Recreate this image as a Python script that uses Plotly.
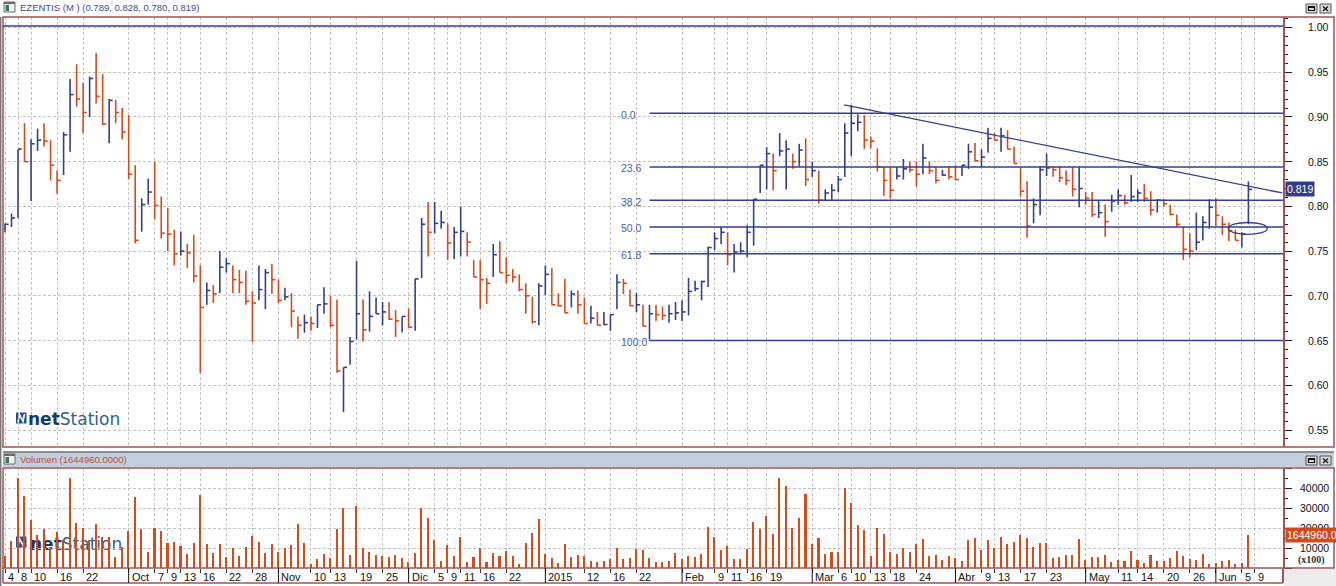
import pandas as pd
import plotly.graph_objects as go

W, H = 1336, 586

# ---------------- data ----------------
first_day = "2014-09-04"
last_axis_day = "2015-06-09"
market_holidays = ["2014-12-25", "2014-12-26", "2015-01-01",
                   "2015-04-03", "2015-04-06", "2015-05-01"]

high = [
    .781, .792, .864, .893, .875, .887, .893, .874, .840, .883,
    .9425, .959, .938, .945, .9715, .948, .920, .919, .910, .902,
    .846, .809, .831, .850, .811, .798, .774, .772, .758, .768,
    .734, .715, .712, .750, .742, .734, .729, .728, .705, .734,
    .730, .736, .718, .709, .703, .677, .679, .677, .690, .7095,
    .700, .696, .620, .654, .739, .696, .705, .698, .693, .693,
    .684, .677, .686, .719, .787, .805, .805, .795, .781, .777,
    .800, .771, .740, .740, .720, .758, .761, .743, .730, .724,
    .714, .699, .714, .734, .731, .703, .719, .706, .706, .698,
    .689, .682, .682, .679, .724, .719, .707, .703, .690, .690,
    .690, .688, .690, .693, .695, .720, .717, .717, .755, .771,
    .777, .771, .758, .760, .779, .808, .846, .866, .859, .882,
    .874, .859, .870, .876, .850, .840, .819, .825, .834, .893,
    .9134, .903, .902, .878, .865, .844, .844, .844, .853, .850,
    .850, .870, .850, .844, .841, .845, .846, .846, .870, .871,
    .864, .888, .882, .888, .885, .867, .844, .828, .809, .845,
    .859, .845, .845, .840, .844, .844, .816, .816, .806, .802,
    .813, .819, .813, .835, .819, .825, .817, .808, .808, .802,
    .791, .777, .770, .793, .789, .808, .809, .789, .782, .774,
    .771, .828]

low = [
    .771, .777, .787, .850, .806, .862, .867, .829, .814, .835,
    .861, .9115, .882, .900, .915, .891, .8705, .893, .875, .8306,
    .7587, .7717, .802, .7855, .764, .750, .734, .745, .731, .715,
    .6137, .690, .692, .703, .726, .703, .703, .690, .648, .695,
    .685, .702, .692, .695, .665, .652, .6588, .661, .664, .680,
    .665, .614, .570, .623, .651, .649, .660, .680, .667, .673,
    .654, .659, .664, .661, .720, .744, .770, .775, .740, .741,
    .744, .744, .721, .685, .691, .721, .726, .714, .715, .705,
    .680, .669, .667, .701, .690, .688, .681, .687, .680, .669,
    .669, .667, .667, .661, .685, .702, .689, .682, .666, .651,
    .672, .673, .670, .673, .672, .678, .705, .695, .710, .751,
    .758, .734, .726, .748, .743, .756, .815, .819, .818, .856,
    .819, .842, .845, .823, .833, .803, .806, .807, .816, .833,
    .856, .884, .864, .865, .839, .812, .809, .830, .830, .838,
    .822, .836, .836, .826, .834, .830, .829, .834, .842, .851,
    .844, .860, .874, .861, .864, .848, .811, .765, .781, .790,
    .834, .833, .827, .824, .811, .799, .802, .788, .787, .766,
    .794, .802, .802, .805, .805, .805, .790, .793, .800, .790,
    .777, .740, .743, .751, .762, .775, .778, .768, .761, .762,
    .754, .780]

close = [
    .780, .787, .864, .850, .870, .874, .873, .846, .829, .880,
    .925, .920, .905, .943, .923, .892, .9186, .905, .883, .836,
    .762, .802, .816, .801, .770, .769, .747, .750, .748, .722,
    .687, .706, .702, .732, .736, .718, .715, .694, .692, .707,
    .726, .718, .695, .699, .683, .667, .670, .669, .690, .691,
    .667, .616, .620, .649, .680, .662, .677, .680, .682, .674,
    .672, .677, .665, .719, .780, .771, .781, .782, .759, .771,
    .772, .760, .721, .718, .714, .746, .726, .723, .721, .707,
    .700, .671, .711, .724, .690, .689, .681, .702, .690, .669,
    .675, .667, .668, .679, .715, .714, .689, .690, .666, .680,
    .679, .678, .680, .681, .682, .705, .708, .716, .754, .764,
    .771, .746, .749, .750, .771, .808, .846, .859, .840, .862,
    .864, .850, .863, .830, .840, .807, .815, .818, .830, .882,
    .893, .894, .874, .873, .844, .829, .818, .834, .842, .841,
    .836, .854, .840, .829, .835, .833, .830, .846, .861, .851,
    .855, .876, .874, .879, .864, .848, .817, .778, .802, .841,
    .843, .841, .832, .829, .819, .820, .809, .791, .793, .783,
    .806, .812, .804, .811, .815, .809, .796, .807, .803, .791,
    .780, .752, .750, .760, .782, .799, .790, .780, .773, .762,
    .769, .819]

volume_x100 = [
    6020, 13480, 44800, 35850, 23920, 16460, 19440, 10660, 18120, 13970,
    44800, 22590, 19770, 13970, 21930, 15630, 15630, 5690, 10330, 18610,
    35520, 19440, 8170, 20110, 18610, 12650, 13140, 11150, 7010, 12650,
    36350, 11980, 7670, 11980, 5690, 10160, 6020, 10660, 15960, 13140,
    7670, 11980, 8170, 9830, 11490, 21930, 12650, 2040, 4520, 7010,
    5190, 19440, 30050, 6510, 30880, 10160, 8170, 6510, 6020, 5690,
    6510, 5190, 3030, 7510, 30220, 24910, 14140, 3530, 11490, 6020,
    15300, 2870, 5350, 10160, 2870, 7340, 6020, 8500, 6020, 2040,
    12650, 17620, 24420, 7010, 5190, 2370, 11980, 5690, 6510, 6020,
    3530, 2870, 3530, 4360, 10160, 4520, 5190, 9500, 9000, 5190,
    2870, 2870, 3530, 7340, 4360, 6020, 5350, 7010, 20270, 15300,
    9000, 10990, 4520, 4520, 9500, 23090, 19280, 25910, 16790, 45130,
    40820, 20110, 25240, 36850, 11980, 14800, 7010, 7840, 7840, 40160,
    32540, 21430, 18950, 6020, 20110, 16960, 7840, 7010, 9830, 7840,
    11980, 14470, 6020, 6510, 4030, 6020, 4860, 3530, 13970, 15130,
    9000, 13970, 10160, 15460, 11980, 12980, 16460, 14970, 10490, 12480,
    12480, 5190, 5690, 6510, 6510, 14470, 4030, 5520, 5520, 6510,
    3030, 4030, 3530, 8500, 4190, 2540, 6510, 3530, 3530, 5020,
    8500, 6020, 4690, 4190, 7010, 2040, 2700, 3530, 4030, 2040,
    2540, 16449.6]

tick_dates = [
    "2014-09-04", "2014-09-08", "2014-09-10", "2014-09-16", "2014-09-22",
    "2014-10-01", "2014-10-07", "2014-10-09", "2014-10-13", "2014-10-16",
    "2014-10-22", "2014-10-28", "2014-11-03", "2014-11-10", "2014-11-13",
    "2014-11-19", "2014-11-25", "2014-12-01", "2014-12-05", "2014-12-09",
    "2014-12-11", "2014-12-16", "2014-12-22", "2015-01-02", "2015-01-12",
    "2015-01-16", "2015-01-22", "2015-02-02", "2015-02-09", "2015-02-11",
    "2015-02-16", "2015-02-19", "2015-03-02", "2015-03-06", "2015-03-10",
    "2015-03-13", "2015-03-18", "2015-03-24", "2015-04-01", "2015-04-09",
    "2015-04-13", "2015-04-17", "2015-04-23", "2015-05-04", "2015-05-11",
    "2015-05-14", "2015-05-20", "2015-05-26", "2015-06-01", "2015-06-05",
    "2015-06-09"]
tick_labels = [
    "4", "8", "10", "16", "22", "Oct", "7", "9", "13", "16", "22", "28",
    "Nov", "10", "13", "19", "25", "Dic", "5", "9", "11", "16", "22",
    "2015", "12", "16", "22", "Feb", "9", "11", "16", "19", "Mar", "6",
    "10", "13", "18", "24", "Abr", "9", "13", "17", "23", "May", "11",
    "14", "20", "26", "Jun", "5", "9"]
month_tick_labels = ["Oct", "Nov", "Dic", "2015", "Feb", "Mar", "Abr", "May", "Jun"]

price_ticks = [0.55, 0.60, 0.65, 0.70, 0.75, 0.80, 0.85, 0.90, 0.95, 1.00]
volume_ticks = [10000, 20000, 30000, 40000]

fib_high, fib_low = 0.904, 0.650
fib_levels = [0.0, 23.6, 38.2, 50.0, 61.8, 100.0]
fib_start_date = "2015-01-26"
trend_start_date, trend_start_price, trend_end_price = "2015-03-09", 0.9135, 0.815
ref_line_price = 1.0017
header_ohlc = (0.789, 0.828, 0.780, 0.819)
last_volume_raw = 1644960.0

# ---------------- helpers ----------------
days = pd.bdate_range(first_day, last_axis_day)
days = days[~days.isin(pd.to_datetime(market_holidays))]
pos = {d.strftime("%Y-%m-%d"): i for i, d in enumerate(days)}

BLUE = "#353f8d"
ORANGE = "#d64a1b"
BROWN = "#9e5656"
GRID = "#c4c4c4"
FONT = "Liberation Sans"

X_LEFT_PX, X_RIGHT_PX = 3, 1283
PX_PER_BAR = 6.51
FIRST_BAR_PX = 5
x_lo = (X_LEFT_PX - FIRST_BAR_PX) / PX_PER_BAR
x_hi = (X_RIGHT_PX - FIRST_BAR_PX) / PX_PER_BAR


def px(x):
    return x / W


def py(y):
    return 1 - y / H


n = len(close)
tick_w = 0.55
ux, uy, dx, dy = [], [], [], []
for i in range(n):
    up = i == 0 or close[i] >= close[i - 1]
    xs = [i, i, None, i, i + tick_w, None]
    ys = [low[i], high[i], None, close[i], close[i], None]
    if up:
        ux += xs; uy += ys
    else:
        dx += xs; dy += ys

fig = go.Figure()
fig.add_trace(go.Scatter(x=ux, y=uy, mode="lines", line=dict(color=BLUE, width=1.6),
                         hoverinfo="skip", showlegend=False, xaxis="x", yaxis="y"))
fig.add_trace(go.Scatter(x=dx, y=dy, mode="lines", line=dict(color=ORANGE, width=1.6),
                         hoverinfo="skip", showlegend=False, xaxis="x", yaxis="y"))
fig.add_trace(go.Bar(x=list(range(n)), y=volume_x100, width=0.24,
                     marker=dict(color=ORANGE, line=dict(width=0)),
                     hoverinfo="skip", showlegend=False, xaxis="x2", yaxis="y2"))

tickvals = [pos[d] for d in tick_dates]

# price panel: 17..447 px ; volume panel 468..568 px
p_top, p_bot = 17, 447
v_top, v_bot = 468, 568
price_range = [0.55 - (p_bot - 430) / 894.4, 1.0 + (27.5 - p_top) / 894.4]
vol_range = [0, (v_bot - v_top) * 500]

common_x = dict(domain=[px(X_LEFT_PX), px(X_RIGHT_PX)], range=[x_lo, x_hi],
                tickmode="array", tickvals=tickvals, showticklabels=False,
                showgrid=True, gridcolor=GRID, griddash="3px,2px", gridwidth=1,
                zeroline=False, showline=False)

fig.update_layout(
    width=W, height=H, margin=dict(l=0, r=0, t=0, b=0),
    paper_bgcolor="white", plot_bgcolor="white", bargap=0,
    xaxis=dict(anchor="y", ticks="", **common_x),
    xaxis2=dict(anchor="y2", matches="x", ticks="outside", ticklen=4,
                tickcolor="#333", tickwidth=1, **common_x),
    yaxis=dict(domain=[py(p_bot), py(p_top)], range=price_range, anchor="x",
               side="right", tick0=0, dtick=0.05, ticks="outside", ticklen=7,
               tickcolor="#222", tickwidth=1, showticklabels=False,
               showgrid=True, gridcolor=GRID, griddash="3px,2px",
               zeroline=False, showline=True, linecolor=BROWN, linewidth=2,
               minor=dict(dtick=0.01, ticks="outside", ticklen=3,
                          tickcolor="#222", showgrid=False)),
    yaxis2=dict(domain=[py(v_bot), py(v_top)], range=vol_range, anchor="x2",
                side="right", tick0=0, dtick=10000, ticks="outside", ticklen=7,
                tickcolor="#222", tickwidth=1, showticklabels=False,
                showgrid=True, gridcolor=GRID, griddash="3px,2px",
                zeroline=False, showline=True, linecolor=BROWN, linewidth=2,
                minor=dict(dtick=5000, ticks="outside", ticklen=3,
                           tickcolor="#222", showgrid=False)),
)

shapes = []
ann = []


def rect_px(x0, y0, x1, y1, fill=None, line=None, lw=1, layer="above"):
    shapes.append(dict(type="rect", xref="paper", yref="paper",
                       x0=px(x0), x1=px(x1), y0=py(y0), y1=py(y1),
                       fillcolor=fill if fill else "rgba(0,0,0,0)",
                       line=dict(color=line if line else "rgba(0,0,0,0)", width=lw if line else 0),
                       layer=layer))


def line_px(x0, y0, x1, y1, color, lw=1, layer="above"):
    shapes.append(dict(type="line", xref="paper", yref="paper",
                       x0=px(x0), x1=px(x1), y0=py(y0), y1=py(y1),
                       line=dict(color=color, width=lw), layer=layer))


# frames
rect_px(1284, 569, 1336, 586, fill="#ececec", layer="below")
line_px(0.7, 17, 0.7, 586, "#777777", 1.5)
rect_px(3, p_top, 1334, p_bot, line=BROWN, lw=1.5)
rect_px(3, 452.5, 1334, 467, fill="#c2cedb")
line_px(3, 452, 1334, 452, "#6a6a6a", 1.5)
rect_px(3, v_top, 1334, v_bot, line=BROWN, lw=1.5)
line_px(3, v_bot, 3, 583, BROWN, 1.5)
line_px(3, 583, 1283, 583, BROWN, 1.5)
line_px(1283, v_bot, 1283, 583, BROWN, 2)

# month (major) ticks on date strip
for d, lab in zip(tick_dates, tick_labels):
    if lab in month_tick_labels:
        shapes.append(dict(type="line", xref="x2", yref="paper", x0=pos[d], x1=pos[d],
                           y0=py(v_bot), y1=py(583), line=dict(color="#111", width=1)))
    ann.append(dict(x=pos[d], xref="x2", y=py(577), yref="paper", text=lab,
                    showarrow=False, xanchor="left", yanchor="middle", xshift=1,
                    font=dict(family=FONT, size=11, color="#111")))

# reference line at 1.00
shapes.append(dict(type="line", xref="x", yref="y", x0=x_lo, x1=x_hi,
                   y0=ref_line_price, y1=ref_line_price, line=dict(color=BLUE, width=1.5)))

# fibonacci retracement
fs = pos[fib_start_date]
for lvl in fib_levels:
    yv = fib_high - (fib_high - fib_low) * lvl / 100.0
    shapes.append(dict(type="line", xref="x", yref="y", x0=fs, x1=x_hi, y0=yv, y1=yv,
                       line=dict(color=BLUE, width=1.5)))
    ann.append(dict(x=(619 - FIRST_BAR_PX) / PX_PER_BAR, xref="x", y=yv, yref="y",
                    text=f"{lvl:.1f}", showarrow=False, xanchor="left", yanchor="middle",
                    yshift=-1.5, font=dict(family=FONT, size=10.5, color="#4d5cb8")))

# trend line
shapes.append(dict(type="line", xref="x", yref="y",
                   x0=pos[trend_start_date] - 0.1, y0=trend_start_price,
                   x1=x_hi - 0.1, y1=trend_end_price, line=dict(color=BLUE, width=1.3)))
# ellipse
shapes.append(dict(type="circle", xref="x", yref="y", x0=187.9, x1=193.9,
                   y0=0.7686, y1=0.782, line=dict(color=BLUE, width=1.3)))

# right axis labels
for v in price_ticks:
    ann.append(dict(x=px(1306), xref="paper", y=v, yref="y", text=f"{v:.2f}",
                    showarrow=False, xanchor="left", yanchor="middle",
                    font=dict(family=FONT, size=10.5, color="#111")))
for v in volume_ticks:
    ann.append(dict(x=px(1297.5), xref="paper", y=v, yref="y2", text=f"{v}",
                    showarrow=False, xanchor="left", yanchor="middle",
                    font=dict(family=FONT, size=10.5, color="#111")))
ann.append(dict(x=px(1296), xref="paper", y=py(559.5), yref="paper", text="<b>(x100)</b>",
                showarrow=False, xanchor="left", yanchor="middle",
                font=dict(family="Liberation Serif", size=10, color="#333")))

# last value markers
ann.append(dict(x=px(1285), xref="paper", y=close[-1], yref="y", text=f"{close[-1]:.3f}",
                showarrow=False, xanchor="left", yanchor="middle", bgcolor="#343c86",
                borderpad=1, font=dict(family=FONT, size=10.5, color="white")))
ann.append(dict(x=px(1285), xref="paper", y=volume_x100[-1], yref="y2",
                text=f"{last_volume_raw:.1f}", showarrow=False, xanchor="left",
                yanchor="middle", bgcolor="#d24a1c", borderpad=1,
                font=dict(family=FONT, size=10.5, color="white")))

# headers
o, h_, l_, c_ = header_ohlc
ann.append(dict(x=px(18), xref="paper", y=py(7.5), yref="paper",
                text=f"EZENTIS (M ) ({o:.3f}, {h_:.3f}, {l_:.3f}, {c_:.3f})",
                showarrow=False, xanchor="left", yanchor="middle",
                font=dict(family=FONT, size=9.5, color="#3d4b9e")))
ann.append(dict(x=px(18), xref="paper", y=py(459), yref="paper",
                text=f"Volumen ({last_volume_raw:.4f})",
                showarrow=False, xanchor="left", yanchor="middle",
                font=dict(family=FONT, size=9.5, color="#b5503a")))

for y0 in (2, 454):
    # window icon
    rect_px(4, y0, 15, y0 + 10, fill="#f2f2f2", line="#6c6c6c", lw=1)
    rect_px(5.5, y0 + 3, 9, y0 + 9, fill="#2f7766")
    rect_px(4, y0, 15, y0 + 2, fill="#6c6c6c")
    # buttons
    rect_px(1306, y0 + 2, 1317, y0 + 11, fill="#d9d9d9", line="#555", lw=1)
    rect_px(1308.5, y0 + 4.5, 1314.5, y0 + 8.5, line="#111", lw=1.2)
    line_px(1308.5, y0 + 5, 1314.5, y0 + 5, "#111", 2)
    rect_px(1320, y0 + 2, 1331, y0 + 11, fill="#d9d9d9", line="#555", lw=1)
    line_px(1323, y0 + 4.5, 1328, y0 + 9, "#111", 1.2)
    line_px(1328, y0 + 4.5, 1323, y0 + 9, "#111", 1.2)

# netStation logos
logo_text = ("<span style='color:#173a6a'><b>net</b></span>"
             "<span style='color:#2d5f93'>Station</span>")
for k, (iy0, ty) in enumerate(((412.5, 418.5), (536.5, 542.5))):
    rect_px(16, iy0, 26.5, iy0 + 11, fill="#1f4f8e", layer="below")
    shapes.append(dict(type="path", xref="paper", yref="paper", layer="below",
                       path=f"M {px(18)} {py(iy0 + 10)} L {px(19.5)} {py(iy0 + 2)} "
                            f"L {px(23)} {py(iy0 + 9)} L {px(24.5)} {py(iy0 + 1.5)}",
                       line=dict(color="white", width=1.6)))
    if k == 0:
        ann.append(dict(x=px(26.5), xref="paper", y=py(ty), yref="paper", text=logo_text,
                        showarrow=False, xanchor="left", yanchor="middle", borderpad=0,
                        font=dict(family="DejaVu Sans", size=17)))
    else:
        shapes.append(dict(type="rect", xref="paper", yref="paper", layer="below",
                           x0=px(27), x1=px(122), y0=py(ty + 10), y1=py(ty - 10),
                           line=dict(width=0), fillcolor="rgba(0,0,0,0)",
                           label=dict(text=logo_text, textposition="middle left",
                                      padding=0,
                                      font=dict(family="DejaVu Sans", size=17))))

fig.update_layout(shapes=shapes, annotations=ann)
fig.write_html("out.html", config={"displayModeBar": False},
               post_script="document.body.style.margin='0';document.body.style.padding='0';")
